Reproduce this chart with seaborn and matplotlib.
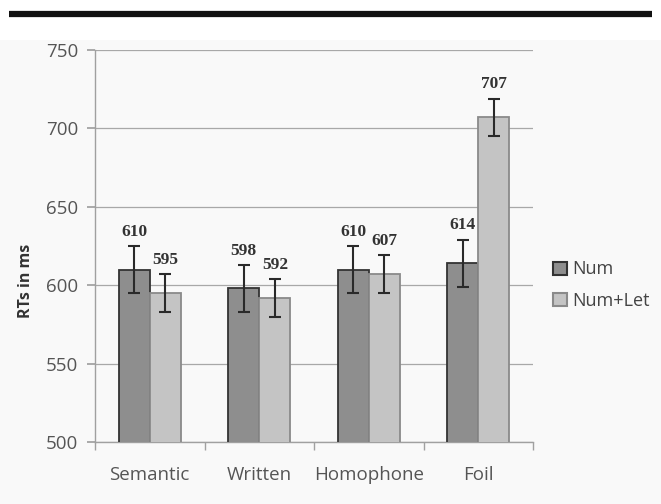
import matplotlib
matplotlib.use('Agg')
import matplotlib.pyplot as plt
import seaborn as sns
import pandas as pd
from matplotlib.lines import Line2D
from matplotlib.patches import Rectangle

# Data
categories = ['Semantic', 'Written', 'Homophone', 'Foil']
num_rt = [610, 598, 610, 614]
numlet_rt = [595, 592, 607, 707]
num_err = [15, 15, 15, 15]
numlet_err = [12, 12, 12, 12]
series = ['Num', 'Num+Let']

df = pd.DataFrame({
    'Condition': categories * 2,
    'Group': [series[0]] * 4 + [series[1]] * 4,
    'RT': num_rt + numlet_rt,
})

sns.set_theme(style='white')
plt.rcParams['font.family'] = ['Open Sans', 'DejaVu Sans']

fig = plt.figure(figsize=(6.61, 5.04), dpi=100, facecolor='white')
fig.add_artist(Rectangle((0, 0), 1, 1 - 40 / 504, transform=fig.transFigure,
                         facecolor='#f9f9f9', edgecolor='none', zorder=-10))
fig.add_artist(Line2D([9 / 661, 652 / 661], [1 - 13.5 / 504] * 2, transform=fig.transFigure,
                      color='#111111', linewidth=4.5, solid_capstyle='butt'))

ax = fig.add_axes([95 / 661, 1 - 442 / 504, 438 / 661, 392 / 504])
ax.set_facecolor('none')

sns.barplot(data=df, x='Condition', y='RT', hue='Group', order=categories,
            hue_order=series, palette=['#8e8e8e', '#c4c4c4'], width=0.57,
            gap=0, ax=ax, zorder=3, legend=False)

edge_cols = ['#333333', '#8a8a8a']
bar_conts = list(ax.containers)
for cont, ec in zip(bar_conts, edge_cols):
    for bar in cont:
        bar.set_edgecolor(ec)
        bar.set_linewidth(1.3)

for i, cont in enumerate(bar_conts):
    vals = num_rt if i == 0 else numlet_rt
    errs = num_err if i == 0 else numlet_err
    xs = [b.get_x() + b.get_width() / 2 for b in cont]
    ax.errorbar(xs, vals, yerr=errs, fmt='none', ecolor='#2a2a2a',
                elinewidth=1.5, capsize=4.5, capthick=1.5, zorder=4)
    for x, v, e in zip(xs, vals, errs):
        ax.text(x, v + e + 4, str(v), ha='center', va='bottom',
                fontsize=12.5, fontweight='bold', color='#333333',
                family=['Liberation Serif', 'DejaVu Serif'])

ax.set_ylim(500, 750)
ax.set_xlim(-0.5, 3.5)
ax.set_yticks(range(500, 751, 50))
ax.yaxis.grid(True, color='#a8a8a8', linewidth=0.9)
ax.set_axisbelow(True)
for s in ['top', 'right']:
    ax.spines[s].set_visible(False)
for s in ['left', 'bottom']:
    ax.spines[s].set_color('#a0a0a0')
    ax.spines[s].set_linewidth(1.0)
ax.tick_params(axis='y', direction='out', length=6, color='#a0a0a0',
               labelsize=13.5, labelcolor='#555555', pad=6, left=True)
ax.set_xticks(range(len(categories)))
ax.set_xticklabels(categories)
ax.set_xticks([-0.5, 0.5, 1.5, 2.5, 3.5], minor=True)
ax.tick_params(axis='x', which='major', length=0, labelsize=13.5,
               labelcolor='#555555', pad=17)
ax.tick_params(axis='x', which='minor', direction='out', length=6,
               color='#a0a0a0', bottom=True)
ax.set_xlabel('')
ax.set_ylabel('RTs in ms', fontsize=11.5, fontweight='bold', color='#333333')
ax.yaxis.set_label_coords(-0.139, 0.41)

handles = [Rectangle((0, 0), 1, 1, facecolor=c, edgecolor=e, linewidth=1.5)
           for c, e in zip(['#8e8e8e', '#c4c4c4'], edge_cols)]
ax.legend(handles, series, loc='center left', bbox_to_anchor=(1.03, 0.40),
          frameon=False, fontsize=13, handlelength=0.75, handleheight=0.75,
          handletextpad=0.3, labelspacing=0.75, labelcolor='#444444',
          borderaxespad=0)

fig.savefig('out.png', dpi=100)
